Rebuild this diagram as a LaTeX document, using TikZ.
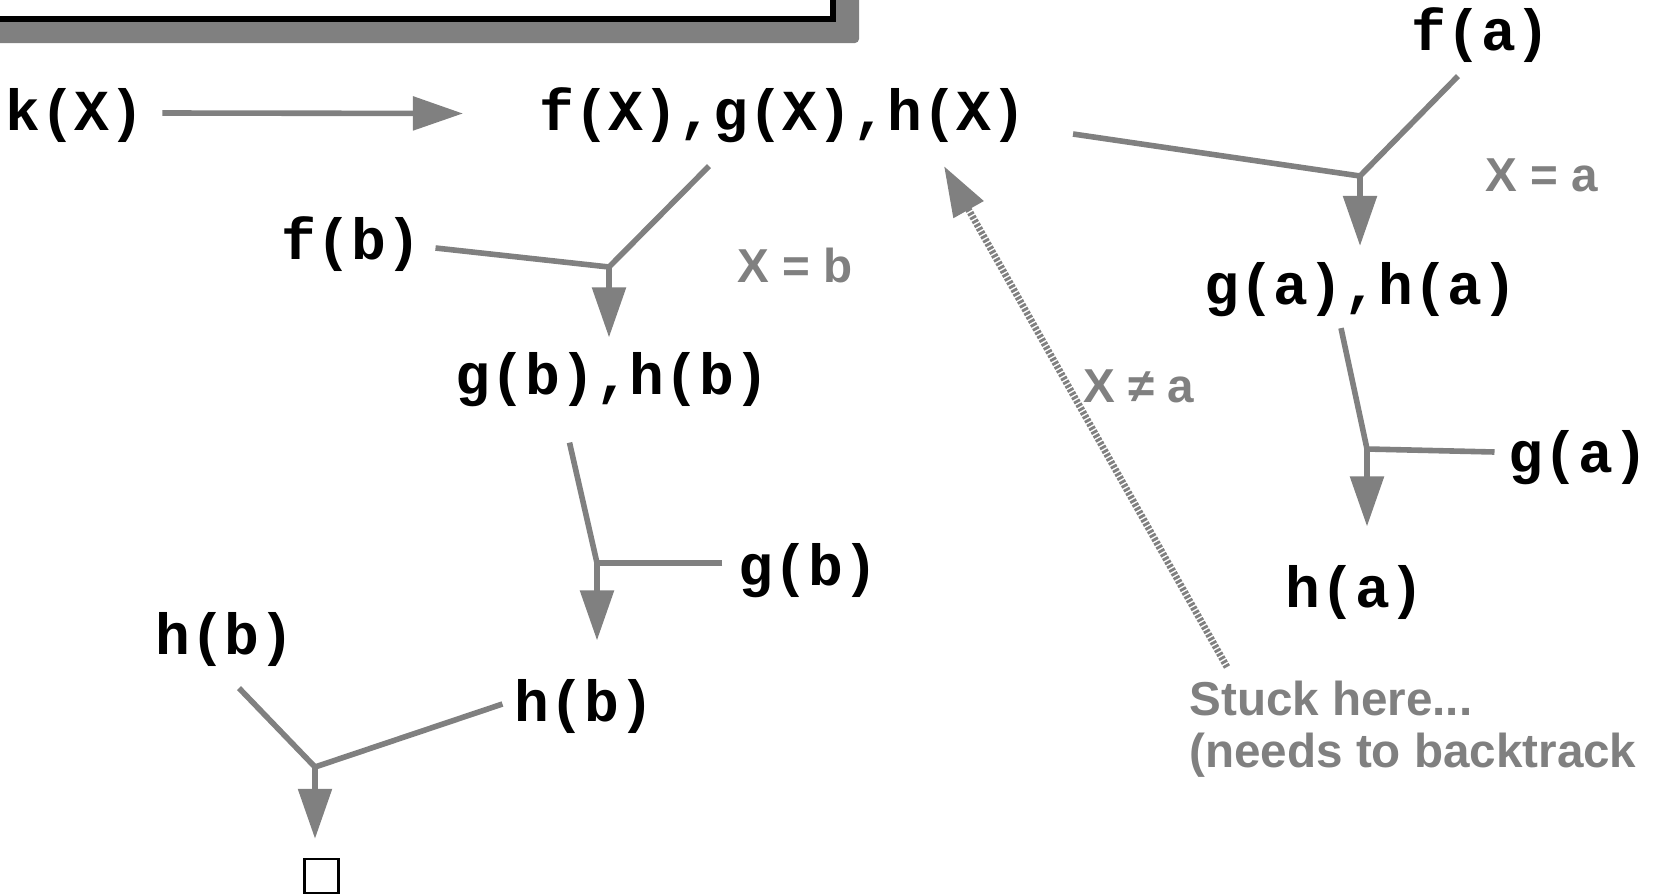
\documentclass[tikz,border=0pt]{standalone}
\usepackage{fontspec}
\setmonofont{Liberation Mono}
\setsansfont{Liberation Sans}
\usetikzlibrary{arrows.meta}
\definecolor{linegray}{HTML}{808080}
\newcommand{\termfont}{\fontsize{29pt}{34pt}\selectfont\ttfamily\bfseries}
\newcommand{\notefont}{\fontsize{23.8pt}{26pt}\selectfont\sffamily\bfseries}

\begin{document}
\begin{tikzpicture}[x=0.5pt, y=-0.5pt]
\tikzstyle{term}=[font=\termfont, inner sep=0pt, text height=20.1pt, text depth=3.1pt]
\tikzstyle{note}=[font=\notefont, text=linegray, inner sep=0pt]
\tikzstyle{link}=[draw=linegray, line width=2.8pt]
\tikzstyle{arrow}=[link, -{Triangle[length=25pt, width=16.5pt]}]
\tikzstyle{backtrack}=[arrow, dash pattern=on 1.4pt off 0.8pt, line width=3.4pt]
\useasboundingbox (0,0) rectangle (1653,894);
% frame of the slide, cut off at the top
\fill[linegray, rounded corners=2pt] (-40,-40) rectangle (859,43);
\draw[line width=3.25pt, fill=white] (-40,-40) rectangle (833,19);
% goals
\node (kX) [term] at (75,113) {k(X)};
\node (fgh) [term] at (783,113.5) {f(X),g(X),h(X)};
\node (fb) [term] at (351.5,242.5) {f(b)};
\node (gbhb) [term] at (612.5,377) {g(b),h(b)};
\node (gb) [term] at (808.5,568) {g(b)};
\node (hbR) [term] at (584.5,704) {h(b)};
\node (hbL) [term] at (225,637.5) {h(b)};
\node (empty) [draw, line width=1.2pt, minimum size=17pt, inner sep=0pt] at (321.5,876) {};
\node (fa) [term] at (1481,33) {f(a)};
\node (gaha) [term] at (1361,287) {g(a),h(a)};
\node (ga) [term] at (1578.5,455) {g(a)};
\node (ha) [term] at (1355,590) {h(a)};
% bindings and remarks
\node (Xb) [note] at (795,265) {X = b};
\node (Xa) [note] at (1542,175) {X = a};
\node (Xna) [note] at (1139,386) {X ≠ a};
\node (stuck) [note, align=left, anchor=north west] at (1189,681) {Stuck here...\\(needs to backtrack};
% resolution steps
\coordinate (j1) at (609,267);
\coordinate (j2) at (597,563);
\coordinate (j3) at (315,767);
\coordinate (j4) at (1360,176);
\coordinate (j5) at (1367,449);
\draw[arrow] ([xshift=8.7pt]kX.east) -- ([xshift=-38pt]fgh.west);
\draw[link] ([shift={(-74,29)}]fgh.south) -- (j1);
\draw[link] ([shift={(14,5.5)}]fb.east) -- (j1);
\draw[arrow, shorten >=8pt] (j1) -- (j1 |- gbhb.north);
\draw[link] ([shift={(-43,42)}]gbhb.south) -- (j2);
\draw[link] ([shift={(-16,-5)}]gb.west) -- (j2);
\draw[arrow, shorten >=20pt] (j2) -- (j2 |- hbR.north);
\draw[link] ([shift={(14,27)}]hbL.south) -- (j3);
\draw[link] ([shift={(-12,0)}]hbR.west) -- (j3);
\draw[arrow, shorten >=9.5pt] (j3) -- (j3 |- empty.north);
\draw[link] ([shift={(46,20.5)}]fgh.east) -- (j4);
\draw[link] ([shift={(-23,19.5)}]fa.south) -- (j4);
\draw[arrow, shorten >=8.75pt] (j4) -- (j4 |- gaha.north);
\draw[link] ([shift={(-20,17.5)}]gaha.south) -- (j5);
\draw[link] ([shift={(-14,-3)}]ga.west) -- (j5);
\draw[arrow, shorten >=20pt] (j5) -- (j5 |- ha.north);
\draw[backtrack] ([shift={(38,-14)}]stuck.north west) -- ([shift={(161,29)}]fgh.south);
\end{tikzpicture}
\end{document}
